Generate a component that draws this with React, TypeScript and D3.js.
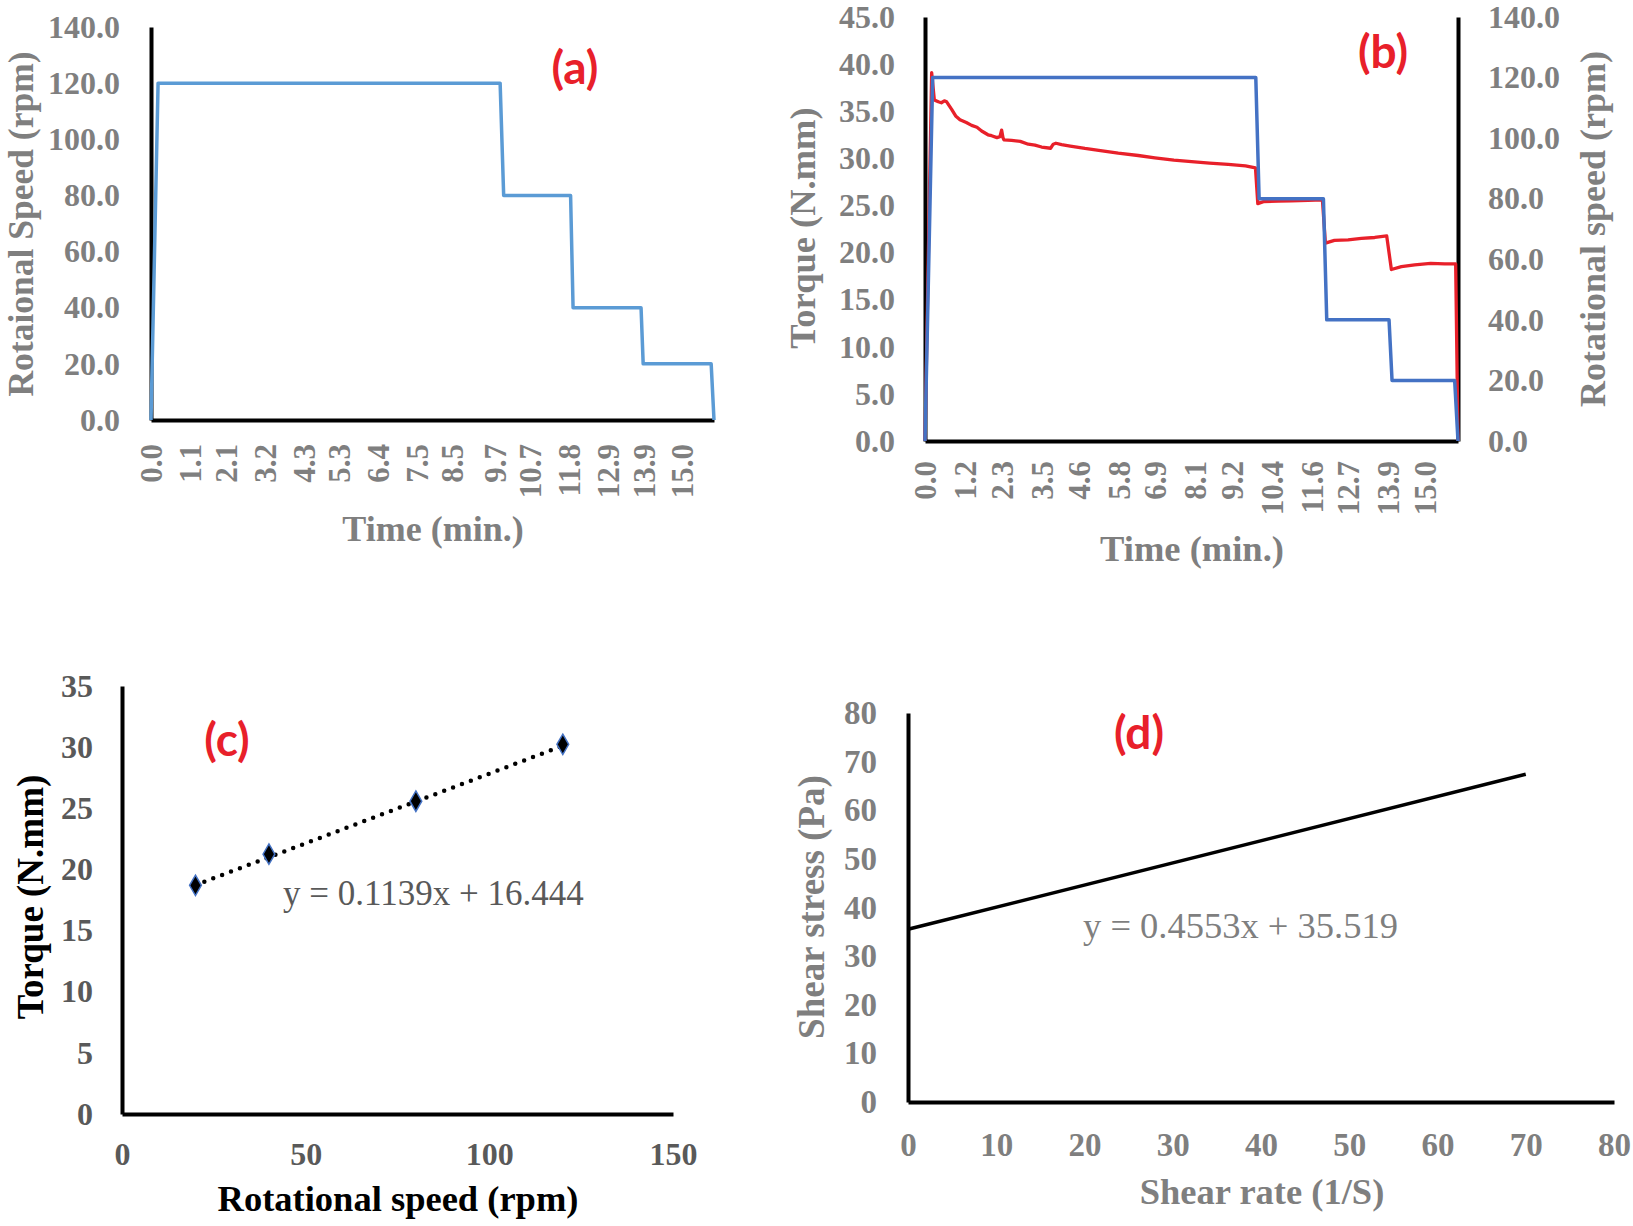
import React, { useEffect, useRef } from "react";
import * as d3 from "d3";

// ---- shared styles
const SERIF = "'Liberation Serif', 'Times New Roman', serif";
const SANS = "Lato, 'Open Sans', sans-serif";
const GREY = "#7f7f7f";
const DARK = "#595959";
const RED = "#e8202a";

// ---- (a) rotational speed programme
const timeTicksA = [0.0, 1.1, 2.1, 3.2, 4.3, 5.3, 6.4, 7.5, 8.5, 9.7, 10.7, 11.8, 12.9, 13.9, 15.0];
const speedTicksA = [0, 20, 40, 60, 80, 100, 120, 140];
const timeA = [0, 0.2, 9.86, 9.96, 11.85, 11.92, 13.84, 13.9, 15.82, 15.9];
const speedA = [0, 120, 120, 80, 80, 40, 40, 20, 20, 0];

// ---- (b) torque + speed vs time
const timeTicksB = [0.0, 1.2, 2.3, 3.5, 4.6, 5.8, 6.9, 8.1, 9.2, 10.4, 11.6, 12.7, 13.9, 15.0];
const torqueTicksB = [0, 5, 10, 15, 20, 25, 30, 35, 40, 45];
const speedTicksB = [0, 20, 40, 60, 80, 100, 120, 140];
const speedTimeB = [0, 0.23, 9.93, 10.03, 11.96, 12.06, 13.93, 14.02, 15.9, 16.0];
const speedB = [0, 120, 120, 80, 80, 40, 40, 20, 20, 0];
const torqueTimeB = [
  0, 0.2, 0.28, 0.4, 0.49, 0.58, 0.65, 0.8, 0.92, 1.05, 1.24, 1.4, 1.56, 1.7, 1.89, 2.0, 2.16, 2.25, 2.3,
  2.34, 2.37, 2.6, 2.86, 3.1, 3.3, 3.5, 3.77, 3.85, 3.93, 4.1, 4.36, 4.8, 5.32, 5.8, 6.4, 6.9, 7.47, 8.0,
  8.54, 9.1, 9.62, 9.92, 9.99, 10.16, 10.6, 11.0, 11.5, 11.93, 12.02, 12.29, 12.7, 13.1, 13.5, 13.86, 14.0,
  14.3, 14.7, 15.18, 15.6, 15.93, 16.0,
];
const torqueB = [
  0, 39.1, 36.2, 36.0, 35.9, 36.1, 36.0, 35.2, 34.5, 34.1, 33.8, 33.5, 33.3, 32.9, 32.5, 32.4, 32.2, 32.3, 33.0,
  32.2, 31.95, 31.9, 31.8, 31.5, 31.4, 31.2, 31.07, 31.5, 31.6, 31.45, 31.3, 31.05, 30.8, 30.55, 30.3, 30.05, 29.8, 29.65,
  29.5, 29.35, 29.2, 29.0, 25.2, 25.4, 25.45, 25.5, 25.55, 25.6, 21.0, 21.3, 21.35, 21.5, 21.6, 21.76, 18.2,
  18.5, 18.7, 18.85, 18.8, 18.8, 0,
];

// ---- (c) torque vs rotational speed
const speedC = [20, 40, 80, 120];
const torqueC = [18.7, 21.25, 25.58, 30.23];
const trendXC = [20, 120];
const trendYC = [18.72, 30.11];
const speedTicksC = [0, 50, 100, 150];
const torqueTicksC = [0, 5, 10, 15, 20, 25, 30, 35];
const equationC = "y = 0.1139x + 16.444";

// ---- (d) shear stress vs shear rate
const shearRate = [0, 70];
const shearStress = [35.52, 67.39];
const rateTicksD = [0, 10, 20, 30, 40, 50, 60, 70, 80];
const stressTicksD = [0, 10, 20, 30, 40, 50, 60, 70, 80];
const equationD = "y = 0.4553x + 35.519";

type G = d3.Selection<SVGGElement, unknown, null, undefined>;

function label(
  g: G, x: number, y: number, str: string,
  o: { size: number; fill: string; weight?: string; family?: string; anchor?: string; rotate?: boolean }
) {
  g.append("text")
    .attr("transform", o.rotate ? `translate(${x},${y}) rotate(-90)` : `translate(${x},${y})`)
    .attr("text-anchor", o.anchor ?? "middle")
    .attr("font-family", o.family ?? SERIF)
    .attr("font-weight", o.weight ?? "bold")
    .attr("font-size", o.size)
    .attr("fill", o.fill)
    .text(str);
}

function styleAxis(ax: G, color: string, size: number) {
  ax.attr("font-family", SERIF).attr("font-size", size).attr("font-weight", "bold");
  ax.select(".domain").attr("stroke", "#000").attr("stroke-width", 4);
  ax.selectAll(".tick line").remove();
  ax.selectAll("text").attr("fill", color);
}

function rotateTicks(ax: G, gap: number) {
  ax.selectAll("text")
    .attr("transform", "rotate(-90)")
    .attr("text-anchor", "end")
    .attr("x", -gap)
    .attr("y", 0)
    .attr("dy", "0.35em");
}

function drawA(root: G) {
  const g = root.append("g");
  const x = d3.scaleLinear().domain([0, 15.9]).range([151, 714]);
  const y = d3.scaleLinear().domain([0, 140]).range([420, 27]);

  const ay = g.append("g").attr("transform", `translate(151,0)`)
    .call(d3.axisLeft(y).tickValues(speedTicksA).tickSize(0).tickSizeOuter(0).tickPadding(31).tickFormat(d3.format(".1f")));
  styleAxis(ay, GREY, 32);
  const ax = g.append("g").attr("transform", `translate(0,420)`)
    .call(d3.axisBottom(x).tickValues(timeTicksA).tickSize(0).tickSizeOuter(0).tickFormat(d3.format(".1f")));
  styleAxis(ax, GREY, 31);
  rotateTicks(ax, 24);

  const line = d3.line<number>().x((_, i) => x(timeA[i])).y((d) => y(d));
  g.append("path").datum(speedA).attr("d", line).attr("fill", "none")
    .attr("stroke", "#5b9bd5").attr("stroke-width", 3.5).attr("stroke-linejoin", "round");

  label(g, 33, 224, "Rotaional Speed (rpm)", { size: 35.5, fill: GREY, rotate: true });
  label(g, 433, 541, "Time (min.)", { size: 36, fill: GREY });
  label(g, 575, 84, "(a)", { size: 46, fill: RED, family: SANS });
}

function drawB(root: G) {
  const g = root.append("g");
  const x = d3.scaleLinear().domain([0, 16.0]).range([925, 1458]);
  const yT = d3.scaleLinear().domain([0, 45]).range([441, 17]);
  const yS = d3.scaleLinear().domain([0, 140]).range([441, 17]);

  const al = g.append("g").attr("transform", `translate(925,0)`)
    .call(d3.axisLeft(yT).tickValues(torqueTicksB).tickSize(0).tickSizeOuter(0).tickPadding(30).tickFormat(d3.format(".1f")));
  styleAxis(al, GREY, 32);
  const ar = g.append("g").attr("transform", `translate(1458,0)`)
    .call(d3.axisRight(yS).tickValues(speedTicksB).tickSize(0).tickSizeOuter(0).tickPadding(30).tickFormat(d3.format(".1f")));
  styleAxis(ar, GREY, 32);
  const ax = g.append("g").attr("transform", `translate(0,441)`)
    .call(d3.axisBottom(x).tickValues(timeTicksB).tickSize(0).tickSizeOuter(0).tickFormat(d3.format(".1f")));
  styleAxis(ax, GREY, 31);
  rotateTicks(ax, 20);

  const red = d3.line<number>().x((_, i) => x(torqueTimeB[i])).y((d) => yT(d));
  g.append("path").datum(torqueB).attr("d", red).attr("fill", "none")
    .attr("stroke", RED).attr("stroke-width", 3.3).attr("stroke-linejoin", "round");
  const blue = d3.line<number>().x((_, i) => x(speedTimeB[i])).y((d) => yS(d));
  g.append("path").datum(speedB).attr("d", blue).attr("fill", "none")
    .attr("stroke", "#4472c4").attr("stroke-width", 3.5).attr("stroke-linejoin", "round");

  label(g, 815, 228, "Torque (N.mm)", { size: 36.5, fill: GREY, rotate: true });
  label(g, 1605, 229, "Rotational speed (rpm)", { size: 36, fill: GREY, rotate: true });
  label(g, 1192, 561, "Time (min.)", { size: 36.5, fill: GREY });
  label(g, 1383, 68, "(b)", { size: 46, fill: RED, family: SANS });
}

function drawC(root: G) {
  const g = root.append("g");
  const x = d3.scaleLinear().domain([0, 150]).range([122, 673]);
  const y = d3.scaleLinear().domain([0, 35]).range([1114, 686]);

  const ay = g.append("g").attr("transform", `translate(122,0)`)
    .call(d3.axisLeft(y).tickValues(torqueTicksC).tickSize(0).tickSizeOuter(0).tickPadding(29));
  styleAxis(ay, DARK, 32);
  const ax = g.append("g").attr("transform", `translate(0,1114)`)
    .call(d3.axisBottom(x).tickValues(speedTicksC).tickSize(0).tickSizeOuter(0).tickPadding(28));
  styleAxis(ax, DARK, 32);

  const trend = d3.line<number>().x((_, i) => x(trendXC[i])).y((d) => y(d));
  g.append("path").datum(trendYC).attr("d", trend).attr("fill", "none")
    .attr("stroke", "#000").attr("stroke-width", 4.5).attr("stroke-linecap", "round")
    .attr("stroke-dasharray", "0 9.5");

  g.selectAll(".pt").data(torqueC).join("path")
    .attr("class", "pt")
    .attr("transform", (d, i) => `translate(${x(speedC[i])},${y(d)})`)
    .attr("d", d3.symbol(d3.symbolDiamond, 120)())
    .attr("fill", "#000").attr("stroke", "#4472c4").attr("stroke-width", 1.5);

  label(g, 283, 905, equationC, { size: 35, fill: DARK, weight: "normal", anchor: "start" });
  label(g, 43, 897, "Torque (N.mm)", { size: 37, fill: "#000", rotate: true });
  label(g, 398, 1211, "Rotational speed (rpm)", { size: 36.5, fill: "#000" });
  label(g, 227, 756, "(c)", { size: 46, fill: RED, family: SANS });
}

function drawD(root: G) {
  const g = root.append("g");
  const x = d3.scaleLinear().domain([0, 80]).range([908, 1614]);
  const y = d3.scaleLinear().domain([0, 80]).range([1102, 713]);

  const ay = g.append("g").attr("transform", `translate(908,0)`)
    .call(d3.axisLeft(y).tickValues(stressTicksD).tickSize(0).tickSizeOuter(0).tickPadding(31));
  styleAxis(ay, GREY, 33);
  const ax = g.append("g").attr("transform", `translate(0,1102)`)
    .call(d3.axisBottom(x).tickValues(rateTicksD).tickSize(0).tickSizeOuter(0).tickPadding(31));
  styleAxis(ax, GREY, 33);

  const line = d3.line<number>().x((_, i) => x(shearRate[i])).y((d) => y(d));
  g.append("path").datum(shearStress).attr("d", line).attr("fill", "none")
    .attr("stroke", "#000").attr("stroke-width", 3.5);

  label(g, 1083, 938, equationD, { size: 36.5, fill: GREY, weight: "normal", anchor: "start" });
  label(g, 824, 907, "Shear stress (Pa)", { size: 37, fill: GREY, rotate: true });
  label(g, 1262, 1204, "Shear rate (1/S)", { size: 36.5, fill: GREY });
  label(g, 1139, 749, "(d)", { size: 46, fill: RED, family: SANS });
}

export default function App() {
  const ref = useRef<SVGSVGElement>(null);

  useEffect(() => {
    if (!ref.current) return;
    const svg = d3.select(ref.current);
    svg.selectAll("*").remove();
    const root = svg.append("g") as unknown as G;
    drawA(root);
    drawB(root);
    drawC(root);
    drawD(root);
  }, []);

  return (
    <div style={{ position: "absolute", left: 0, top: 0 }}>
      <svg ref={ref} width={1633} height={1226} style={{ display: "block", background: "#fff" }} />
    </div>
  );
}
